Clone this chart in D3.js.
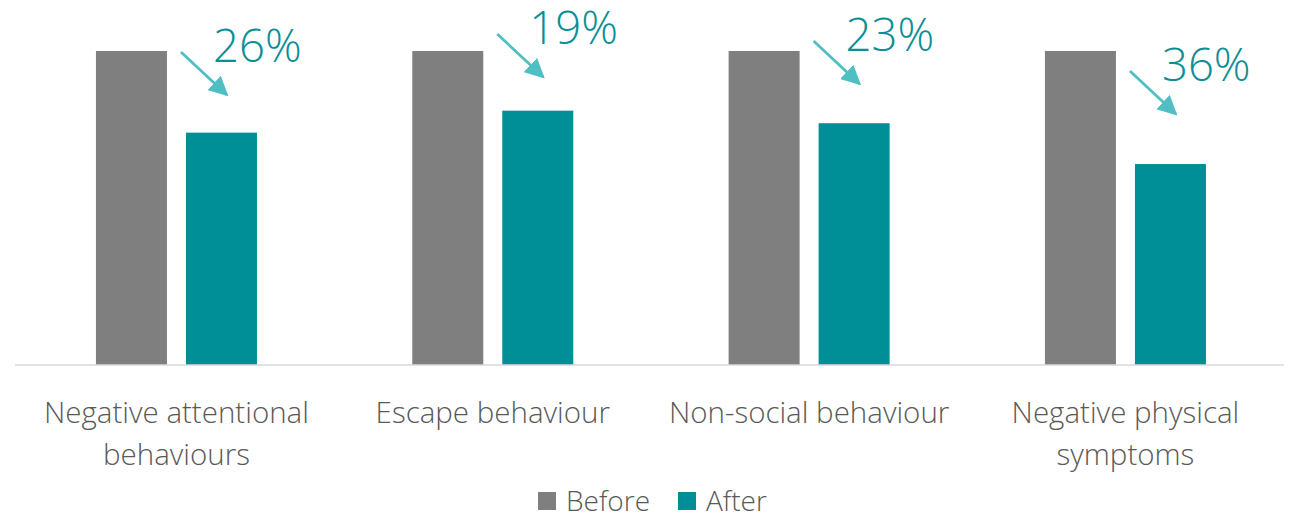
<!DOCTYPE html>
<html>
<head>
<meta charset="utf-8">
<script src="https://cdn.jsdelivr.net/npm/d3@7"></script>
<style>
  html, body { margin: 0; padding: 0; background: #fff; }
  svg { display: block; }
  text { font-family: "Open Sans", "Segoe UI", sans-serif; font-weight: 300; }
</style>
</head>
<body>
<svg id="chart" width="1293" height="516"></svg>
<script>
// ---- data ----
const categories = [["Negative attentional", "behaviours"], ["Escape behaviour"], ["Non-social behaviour"], ["Negative physical", "symptoms"]];
const series = ["Before", "After"];
const beforeValues = [100, 100, 100, 100];
const afterValues = [74, 81, 77, 64];
const changeLabels = ["26%", "19%", "23%", "36%"];
// annotation anchor level (in value units) for each arrow
const annotationLevel = [99.7, 105.4, 103.2, 93.6];

const colors = { Before: "#7f7f7f", After: "#008e97" };
const arrowColor = "#4fbfc4";
const labelColor = "#0b8e96";

const svg = d3.select("#chart");
const baseY = 365;

const catKeys = categories.map(c => c.join(" "));
const x0 = d3.scaleBand().domain(catKeys).range([18.3, 1283.6]).paddingInner(0.491).paddingOuter(0.2455);
const x1 = d3.scaleBand().domain(series).range([0, x0.bandwidth()]).paddingInner(19 / 90);
const y = d3.scaleLinear().domain([0, 100]).range([baseY, 51]);

const rows = catKeys.map((k, i) => ({ key: k, lines: categories[i], Before: beforeValues[i], After: afterValues[i], label: changeLabels[i], level: annotationLevel[i] }));

// bars
const g = svg.append("g");
const groups = g.selectAll("g.cat").data(rows).join("g").attr("class", "cat")
  .attr("transform", d => `translate(${x0(d.key)},0)`);
groups.selectAll("rect").data(d => series.map(s => ({ s, v: d[s] }))).join("rect")
  .attr("x", d => x1(d.s)).attr("width", x1.bandwidth())
  .attr("y", d => y(d.v)).attr("height", d => y(0) - y(d.v))
  .attr("fill", d => colors[d.s]);

// axis baseline
const xAxis = d3.axisBottom(x0).tickSize(0).tickFormat("");
const axG = svg.append("g").attr("transform", `translate(0,${baseY})`).call(xAxis);
axG.select(".domain").attr("stroke", "#d9d9d9").attr("stroke-width", 1.5).attr("d", `M15,0H1284`);

// category labels
const lblG = svg.append("g");
rows.forEach(d => {
  const cx = x0(d.key) + x0.bandwidth() / 2;
  const t = lblG.append("text").attr("x", cx).attr("y", 423).attr("text-anchor", "middle")
    .attr("font-size", 29.5).attr("fill", "#595959");
  d.lines.forEach((ln, j) => {
    t.append("tspan").attr("x", cx).attr("dy", j === 0 ? 0 : 42).text(ln);
  });
});

// arrows
const defs = svg.append("defs");
defs.append("marker").attr("id", "ah").attr("viewBox", "0 0 10 10")
  .attr("refX", 9).attr("refY", 5).attr("markerWidth", 7).attr("markerHeight", 7)
  .attr("markerUnits", "strokeWidth").attr("orient", "auto")
  .append("path").attr("d", "M0,0L10,5L0,10Z").attr("fill", arrowColor);

const annG = svg.append("g");
rows.forEach(d => {
  const sx = x0(d.key) + x1("Before") + x1.bandwidth() + 14;
  const sy = y(d.level);
  annG.append("line").attr("x1", sx).attr("y1", sy).attr("x2", sx + 46).attr("y2", sy + 43)
    .attr("stroke", arrowColor).attr("stroke-width", 2.8).attr("marker-end", "url(#ah)");
  annG.append("text").attr("x", sx + 32).attr("y", sy + 10).attr("font-size", 45.5)
    .attr("fill", labelColor).text(d.label);
});

// legend
const leg = svg.append("g");
const legItems = [{ s: "Before", x: 538 }, { s: "After", x: 678 }];
legItems.forEach(it => {
  leg.append("rect").attr("x", it.x).attr("y", 492).attr("width", 18).attr("height", 18).attr("fill", colors[it.s]);
  leg.append("text").attr("x", it.x + 28).attr("y", 511).attr("font-size", 28).attr("fill", "#595959").text(it.s);
});
</script>
</body>
</html>
